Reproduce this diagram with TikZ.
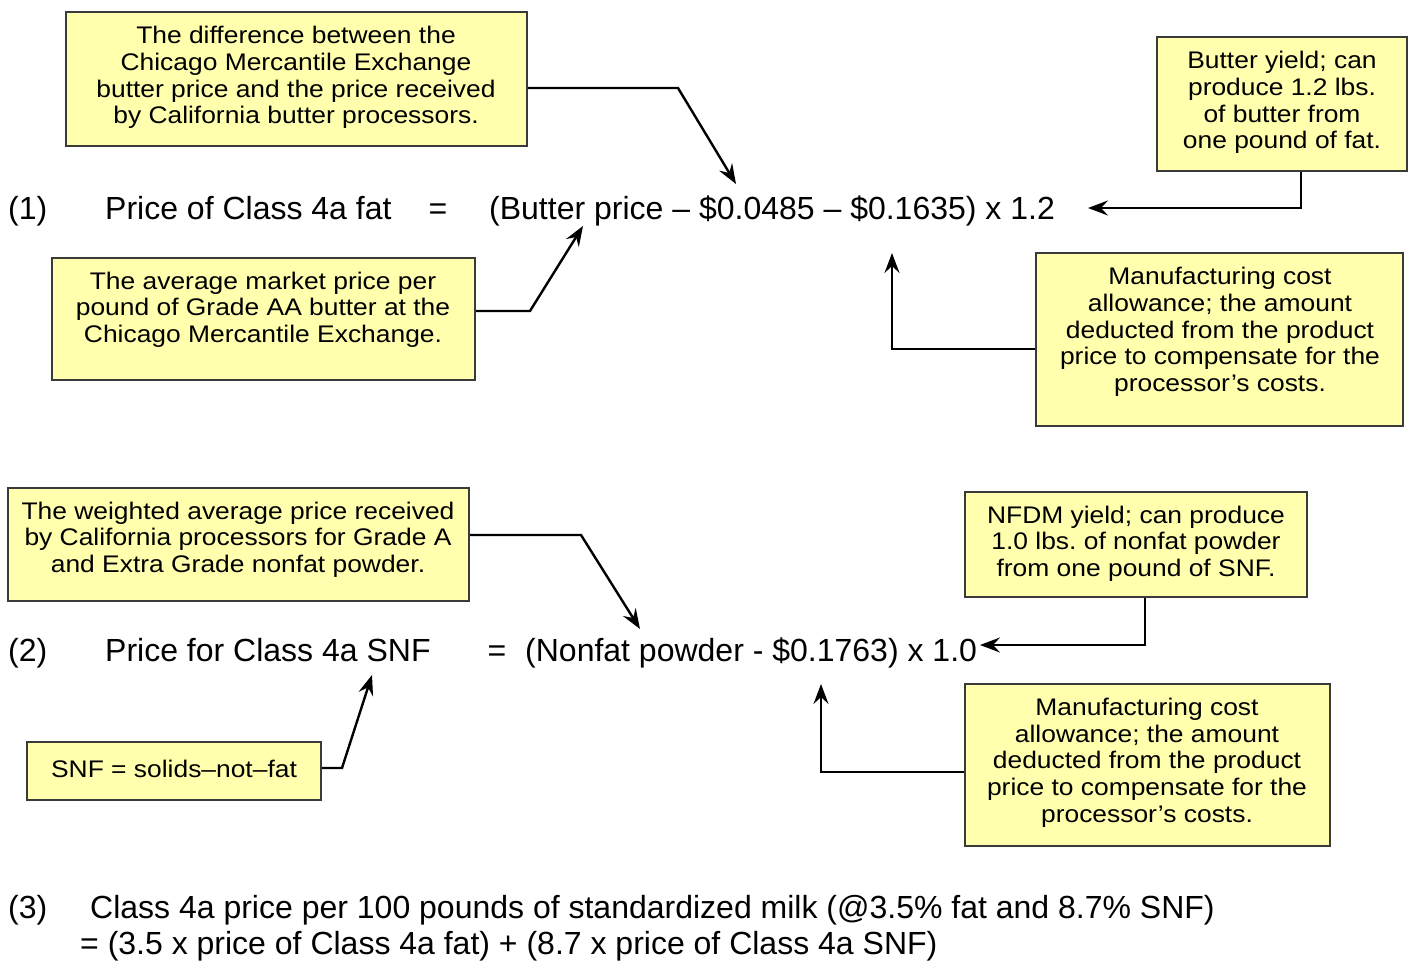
\documentclass[tikz,border=0pt]{standalone}
\usepackage{fontspec}
\setmainfont{Liberation Sans}
\newfontfamily\notefont{Liberation Sans}[FakeStretch=1.1]
\usetikzlibrary{arrows.meta}
\definecolor{notefill}{HTML}{FFFFAD}
\definecolor{noteedge}{HTML}{3A3A3A}
\frenchspacing
\begin{document}
\begin{tikzpicture}[x=1pt,y=-1pt,
  notebox/.style={draw=noteedge,fill=notefill,line width=2.4pt,inner sep=0pt},
  notetext/.style={align=center,inner sep=0pt,font=\notefont\fontsize{24}{26.7}\selectfont},
  eq/.style={inner sep=0pt,anchor=base west,font=\fontsize{32}{36}\selectfont},
  conn/.style={line width=2.4pt,-{Stealth[length=20pt,width=15pt,inset=7pt]}}]
\useasboundingbox (0,0) rectangle (1409,961);

% ---------- (1) price of Class 4a fat ----------
\node[eq] (n1) at (8,219) {(1)};
\node[eq] (f1l) at (105,219) {Price of Class 4a fat};
\node[eq,anchor=base] (f1eq) at (438,219) {=};
\node[eq] (f1r) at (489,219) {(Butter price – \$0.0485 – \$0.1635) x 1.2};

\node[notebox,minimum width=461pt,minimum height=134pt] (bA) at (296.5,79) {};
\node[notetext] (tA) at (296,77.5) {The difference between the\\Chicago Mercantile Exchange\\butter price and the price received\\by California butter processors.};

\node[notebox,minimum width=250pt,minimum height=134pt] (bB) at (1282,104) {};
\node[notetext] (tB) at (1282,102.5) {Butter yield; can\\produce 1.2 lbs.\\of butter from\\one pound of fat.};

\node[notebox,minimum width=423pt,minimum height=122pt] (bC) at (263.5,319) {};
\node[notetext] (tC) at (263,309.5) {The average market price per\\pound of Grade AA butter at the\\Chicago Mercantile Exchange.};

\node[notebox,minimum width=367pt,minimum height=173pt] (bD) at (1219.5,339.5) {};
\node[notetext] (tD) at (1220,332) {Manufacturing cost\\allowance; the amount\\deducted from the product\\price to compensate for the\\processor’s costs.};

\coordinate (pA) at (736,184);
\coordinate (pB) at (1088,208);
\coordinate (pC) at (583,226);
\coordinate (pD) at (892,253);
\draw[conn] (bA.east |- 0,88) -- (678,88) -- (pA);
\draw[conn] (bB.south -| 1301,0) -- (1301,208) -- (pB);
\draw[conn] (bC.east |- 0,311) -- (530,311) -- (pC);
\draw[conn] (bD.west |- 0,349) -- (892,349) -- (pD);

% ---------- (2) price for Class 4a SNF ----------
\node[eq] (n2) at (8,661) {(2)};
\node[eq] (f2l) at (105,661) {Price for Class 4a SNF};
\node[eq,anchor=base] (f2eq) at (497,661) {=};
\node[eq] (f2r) at (525,661) {(Nonfat powder - \$0.1763) x 1.0};

\node[notebox,minimum width=461pt,minimum height=113pt] (bE) at (238.5,544.5) {};
\node[notetext] (tE) at (238,539.5) {The weighted average price received\\by California processors for Grade A\\and Extra Grade nonfat powder.};

\node[notebox,minimum width=342pt,minimum height=105pt] (bF) at (1136,544.5) {};
\node[notetext] (tF) at (1136,543.5) {NFDM yield; can produce\\1.0 lbs. of nonfat powder\\from one pound of SNF.};

\node[notebox,minimum width=294pt,minimum height=58pt] (bG) at (174,771) {};
\node[notetext] (tG) at (174,769) {SNF = solids–not–fat};

\node[notebox,minimum width=365pt,minimum height=162pt] (bH) at (1147.5,765) {};
\node[notetext] (tH) at (1147,762.5) {Manufacturing cost\\allowance; the amount\\deducted from the product\\price to compensate for the\\processor’s costs.};

\coordinate (pE) at (640,629);
\coordinate (pF) at (980,645);
\coordinate (pG) at (372,675);
\coordinate (pH) at (821,684);
\draw[conn] (bE.east |- 0,535) -- (581,535) -- (pE);
\draw[conn] (bF.south -| 1145,0) -- (1145,645) -- (pF);
\draw[conn] (bG.east |- 0,768) -- (342,768) -- (pG);
\draw[conn] (bH.west |- 0,772) -- (821,772) -- (pH);

% ---------- (3) Class 4a price per hundredweight ----------
\node[eq] (n3) at (8,918) {(3)};
\node[eq] (f3a) at (90,918) {Class 4a price per 100 pounds of standardized milk (@3.5\% fat and 8.7\% SNF)};
\node[eq] (f3b) at (80,954) {= (3.5 x price of Class 4a fat) + (8.7 x price of Class 4a SNF)};
\end{tikzpicture}
\end{document}
